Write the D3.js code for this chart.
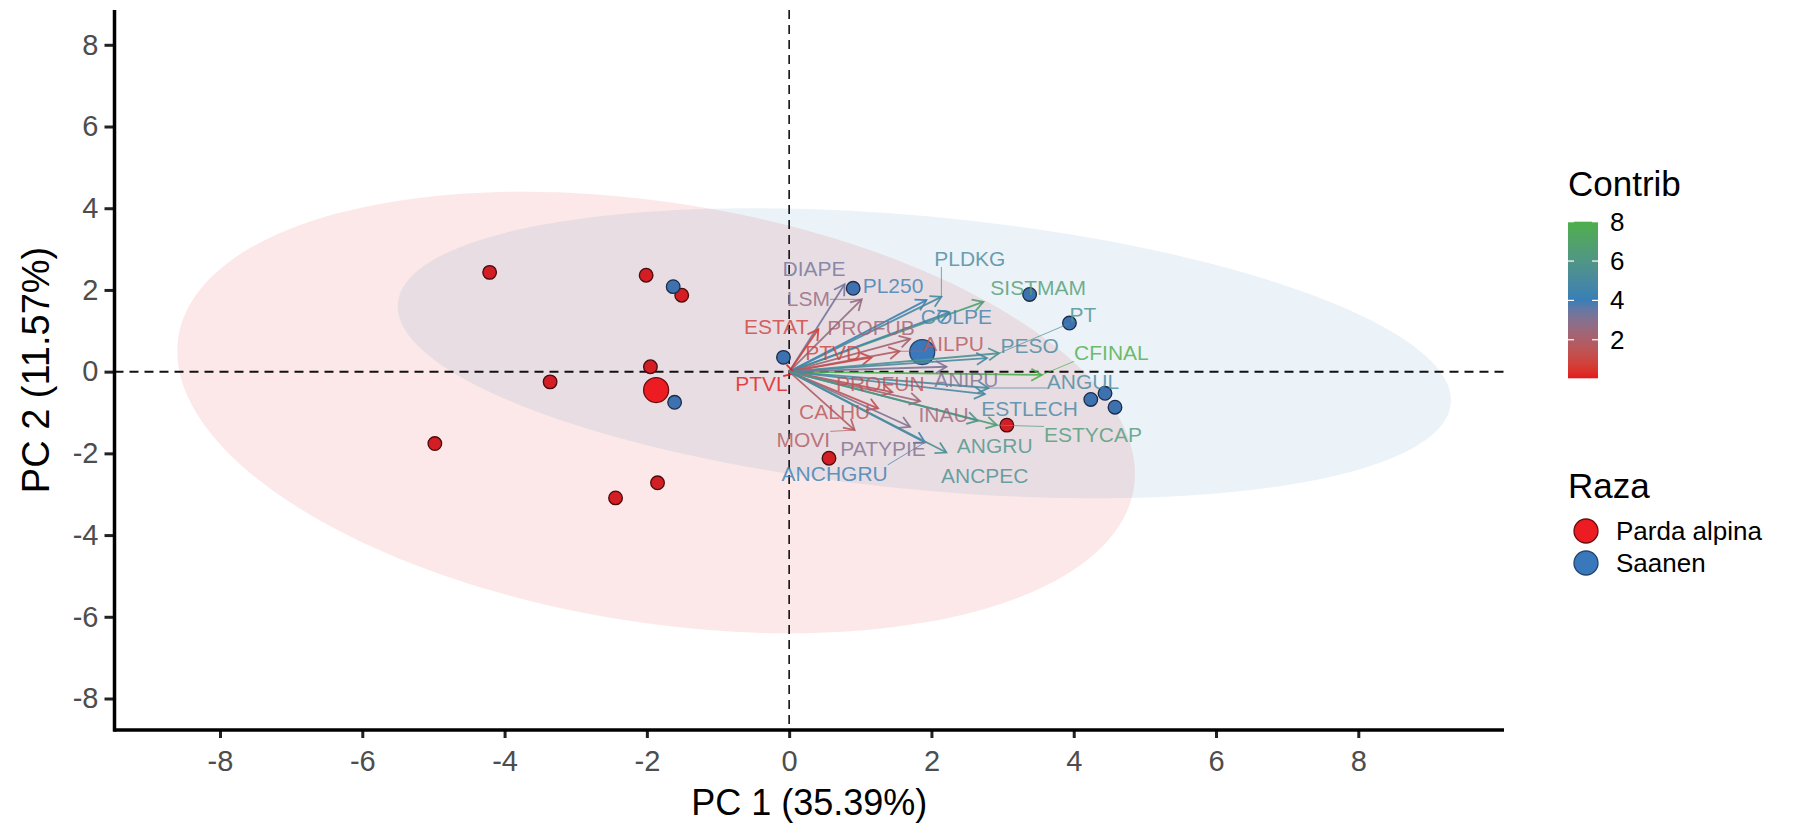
<!DOCTYPE html>
<html>
<head>
<meta charset="utf-8">
<script src="https://cdn.jsdelivr.net/npm/d3@7"></script>
<style>
  body { margin: 0; background: #fff; }
  text { font-family: "Liberation Sans", Arial, sans-serif; }
</style>
</head>
<body>
<script>
// PCA biplot: individuals by breed + variable arrows coloured by contribution

const width = 1814;
const height = 827;

// individuals (PC1, PC2)
const pardaX = [-4.21, -2.01, -1.51, -1.95, -3.36, -4.98, -1.85, -2.44, 0.56, 3.06];
const pardaY = [2.43, 2.36, 1.87, 0.12, -0.25, -1.76, -2.72, -3.09, -2.12, -1.31];
const saanenX = [-1.63, -1.61, -0.08, 0.90, 3.38, 3.94, 4.24, 4.44, 4.58];
const saanenY = [2.08, -0.75, 0.35, 2.04, 1.89, 1.19, -0.68, -0.53, -0.87];

const groups = ["Parda alpina", "Saanen"];
const groupMeanX = [-1.87, 1.87];
const groupMeanY = [-0.45, 0.48];

// ellipse per group: centre, var x, var y, cov xy
const ellCx = [-1.87, 1.9];
const ellCy = [-1.0, 0.45];
const ellSxx = [45.3, 54.8];
const ellSyy = [29.2, 12.6];
const ellSxy = [-10.1, -8.5];

// variables
const varNames = ["DIAPE", "LSM", "PL250", "PLDKG", "SISTMAM", "COLPE", "ESTAT", "PROFUB", "PTVD", "AILPU",
  "PT", "PESO", "CFINAL", "PTVL", "ANIPU", "ANGUL", "ESTLECH", "PROFUN", "CALHU", "INAU",
  "ESTYCAP", "MOVI", "PATYPIE", "ANGRU", "ANCHGRU", "ANCPEC"];
const varX = [0.78, 1.02, 1.93, 2.14, 2.73, 2.25, 0.41, 1.70, 1.16, 1.55,
  2.95, 2.78, 3.55, 0.08, 2.21, 2.80, 2.75, 1.45, 1.25, 1.84,
  2.92, 0.92, 1.70, 2.65, 1.91, 2.21];
const varY = [2.14, 1.77, 1.75, 1.83, 1.71, 1.45, 1.04, 0.80, 0.35, 0.50,
  0.45, 0.33, -0.08, -0.04, 0.12, -0.40, -0.55, -0.50, -0.90, -0.72,
  -1.31, -1.43, -1.35, -1.20, -1.73, -1.98];
const varContrib = [3.3, 2.6, 4.3, 5.0, 6.6, 4.5, 0.8, 2.2, 0.9, 1.7,
  5.6, 4.9, 8.0, 0.04, 3.1, 5.0, 4.9, 1.5, 1.5, 2.4,
  6.5, 1.8, 3.0, 5.8, 4.2, 5.5];
const labX = [0.35, 0.27, 1.46, 2.54, 3.50, 2.35, -0.18, 1.15, 0.62, 2.31,
  4.13, 3.38, 4.53, -0.39, 2.49, 4.13, 3.38, 1.28, 0.64, 2.17,
  4.27, 0.20, 1.32, 2.89, 0.64, 2.75];
const labY = [2.53, 1.79, 2.12, 2.77, 2.06, 1.36, 1.10, 1.08, 0.47, 0.69,
  1.39, 0.65, 0.46, -0.30, -0.19, -0.25, -0.90, -0.30, -0.98, -1.06,
  -1.55, -1.67, -1.88, -1.80, -2.49, -2.53];

const xTicks = [-8, -6, -4, -2, 0, 2, 4, 6, 8];
const yTicks = [-8, -6, -4, -2, 0, 2, 4, 6, 8];
const contribTicks = [2, 4, 6, 8];
const contribRange = [0.04, 8.0];

const svg = d3.select("body")
    .append("svg")
    .attr("width", width)
    .attr("height", height)
    .style("background", "#fff");

const panel = { left: 114.5, right: 1504, top: 10, bottom: 730 };

const x = d3.scaleLinear().domain([-8, 8]).range([220, 1358.3]);
const y = d3.scaleLinear().domain([-8, 8]).range([698.5, 44.8]);

const groupFill = ["#E41A1C", "#377EB8"];

const color = d3.scaleLinear()
    .domain([contribRange[0], (contribRange[0] + contribRange[1]) / 2, contribRange[1]])
    .range(["#E41A1C", "#377EB8", "#4DAF4A"])
    .interpolate(d3.interpolateLab);

// ellipses
groups.forEach((g, i) => {
    const a = Math.sqrt(ellSxx[i]);
    const b = ellSxy[i] / a;
    const c = Math.sqrt(ellSyy[i] - b * b);
    const pts = d3.range(0, 360, 2).map(deg => {
        const t = deg * Math.PI / 180;
        return [ellCx[i] + a * Math.cos(t), ellCy[i] + b * Math.cos(t) + c * Math.sin(t)];
    });
    svg.append("path")
        .datum(pts)
        .attr("d", d3.line().x(d => x(d[0])).y(d => y(d[1])).curve(d3.curveLinearClosed))
        .attr("fill", groupFill[i])
        .attr("fill-opacity", 0.1);
});

// reference lines
svg.append("line")
    .attr("x1", panel.left).attr("x2", panel.right)
    .attr("y1", y(0)).attr("y2", y(0))
    .attr("stroke", "#111").attr("stroke-width", 2).attr("stroke-dasharray", "9,6");
svg.append("line")
    .attr("x1", x(0)).attr("x2", x(0))
    .attr("y1", panel.top).attr("y2", panel.bottom)
    .attr("stroke", "#111").attr("stroke-width", 1.6).attr("stroke-dasharray", "9,6");

// individuals
const inds = [
    ...pardaX.map((v, i) => ({ x: v, y: pardaY[i], g: 0 })),
    ...saanenX.map((v, i) => ({ x: v, y: saanenY[i], g: 1 }))
];
svg.append("g").selectAll("circle")
    .data(inds)
    .join("circle")
    .attr("cx", d => x(d.x))
    .attr("cy", d => y(d.y))
    .attr("r", 6.8)
    .attr("fill", d => d.g === 0 ? "#D21E24" : "#3E71B0")
    .attr("stroke", d => d.g === 0 ? "#4a0b0b" : "#1c2c48")
    .attr("stroke-width", 1.3);

// group means
svg.append("g").selectAll("circle")
    .data(groups)
    .join("circle")
    .attr("cx", (d, i) => x(groupMeanX[i]))
    .attr("cy", (d, i) => y(groupMeanY[i]))
    .attr("r", 12.5)
    .attr("fill", (d, i) => i === 0 ? "#EC1C22" : "#3A78BC")
    .attr("stroke", (d, i) => i === 0 ? "#6a0d0d" : "#24456e")
    .attr("stroke-width", 1.3);

// variable arrows
const arrows = svg.append("g");
const headLen = 12;
varNames.forEach((name, i) => {
    const x0 = x(0), y0 = y(0);
    const x1 = x(varX[i]), y1 = y(varY[i]);
    const ang = Math.atan2(y1 - y0, x1 - x0);
    const col = color(varContrib[i]);
    const w1 = [x1 - headLen * Math.cos(ang - Math.PI / 6), y1 - headLen * Math.sin(ang - Math.PI / 6)];
    const w2 = [x1 - headLen * Math.cos(ang + Math.PI / 6), y1 - headLen * Math.sin(ang + Math.PI / 6)];
    arrows.append("line")
        .attr("x1", x0).attr("y1", y0).attr("x2", x1).attr("y2", y1)
        .attr("stroke", col).attr("stroke-width", 1.8).attr("stroke-opacity", 0.9);
    arrows.append("path")
        .attr("d", `M${w1[0]},${w1[1]}L${x1},${y1}L${w2[0]},${w2[1]}`)
        .attr("fill", "none")
        .attr("stroke", col).attr("stroke-width", 1.8).attr("stroke-opacity", 0.9);
});

// variable labels + leader segments
const leaders = svg.append("g");
const labels = svg.append("g");
varNames.forEach((name, i) => {
    const col = color(varContrib[i]);
    const t = labels.append("text")
        .attr("x", x(labX[i]))
        .attr("y", y(labY[i]))
        .attr("text-anchor", "middle")
        .attr("dominant-baseline", "central")
        .attr("font-size", 21)
        .attr("fill", col)
        .attr("fill-opacity", 0.82)
        .text(name);
    const bb = t.node().getBBox();
    const tx = x(varX[i]), ty = y(varY[i]);
    const nx = Math.max(bb.x, Math.min(tx, bb.x + bb.width));
    const ny = Math.max(bb.y + 3, Math.min(ty, bb.y + bb.height - 3));
    if (Math.hypot(nx - tx, ny - ty) > 18) {
        leaders.append("line")
            .attr("x1", tx).attr("y1", ty).attr("x2", nx).attr("y2", ny)
            .attr("stroke", col).attr("stroke-width", 0.9).attr("stroke-opacity", 0.8);
    }
});

// axes
const fmt = d => String(d);
const xAxis = svg.append("g")
    .attr("transform", `translate(0,${panel.bottom})`)
    .call(d3.axisBottom(x).tickValues(xTicks).tickFormat(fmt).tickSize(8).tickPadding(12).tickSizeOuter(0));
const yAxis = svg.append("g")
    .attr("transform", `translate(${panel.left},0)`)
    .call(d3.axisLeft(y).tickValues(yTicks).tickFormat(fmt).tickSize(10).tickPadding(6).tickSizeOuter(0));
[xAxis, yAxis].forEach(ax => {
    ax.select(".domain").remove();
    ax.selectAll(".tick line").attr("stroke", "#222").attr("stroke-width", 3);
    ax.selectAll(".tick text")
        .attr("font-size", 29)
        .attr("fill", "#4D4D4D")
        .style("font-family", "'Liberation Sans', Arial, sans-serif");
});
svg.append("line")
    .attr("x1", panel.left).attr("x2", panel.right)
    .attr("y1", panel.bottom).attr("y2", panel.bottom)
    .attr("stroke", "#000").attr("stroke-width", 3.5);
svg.append("line")
    .attr("x1", panel.left).attr("x2", panel.left)
    .attr("y1", panel.top).attr("y2", panel.bottom + 1.75)
    .attr("stroke", "#000").attr("stroke-width", 3.5);

svg.append("text")
    .attr("x", (panel.left + panel.right) / 2)
    .attr("y", 815)
    .attr("text-anchor", "middle")
    .attr("font-size", 36)
    .text("PC 1 (35.39%)");
svg.append("text")
    .attr("transform", `translate(49,${(panel.top + panel.bottom) / 2}) rotate(-90)`)
    .attr("text-anchor", "middle")
    .attr("font-size", 38)
    .text("PC 2 (11.57%)");

// legend: Contrib colourbar
const lg = { x: 1568, barTop: 221.7, barBottom: 378.3, barW: 30 };
svg.append("text")
    .attr("x", lg.x).attr("y", 196)
    .attr("font-size", 35)
    .text("Contrib");

const grad = svg.append("defs").append("linearGradient")
    .attr("id", "contribGrad")
    .attr("x1", 0).attr("y1", 1).attr("x2", 0).attr("y2", 0);
d3.range(0, 1.0001, 0.05).forEach(f => {
    grad.append("stop")
        .attr("offset", f)
        .attr("stop-color", color(contribRange[0] + f * (contribRange[1] - contribRange[0])));
});
svg.append("rect")
    .attr("x", lg.x).attr("y", lg.barTop)
    .attr("width", lg.barW).attr("height", lg.barBottom - lg.barTop)
    .attr("fill", "url(#contribGrad)");

const yc = d3.scaleLinear().domain(contribRange).range([lg.barBottom, lg.barTop]);
contribTicks.forEach(v => {
    [[lg.x, lg.x + 6], [lg.x + lg.barW - 6, lg.x + lg.barW]].forEach(([a, b]) => {
        svg.append("line")
            .attr("x1", a).attr("x2", b).attr("y1", yc(v)).attr("y2", yc(v))
            .attr("stroke", "#fff").attr("stroke-width", 1.2);
    });
    svg.append("text")
        .attr("x", lg.x + lg.barW + 12)
        .attr("y", yc(v))
        .attr("dominant-baseline", "central")
        .attr("font-size", 26)
        .text(v);
});

// legend: Raza
svg.append("text")
    .attr("x", lg.x).attr("y", 498)
    .attr("font-size", 35)
    .text("Raza");
groups.forEach((g, i) => {
    const cy = 531 + i * 32;
    svg.append("circle")
        .attr("cx", lg.x + 18).attr("cy", cy).attr("r", 12)
        .attr("fill", i === 0 ? "#EC1C22" : "#3A78BC")
        .attr("stroke", i === 0 ? "#6a0d0d" : "#24456e")
        .attr("stroke-width", 1.3);
    svg.append("text")
        .attr("x", lg.x + 48).attr("y", cy)
        .attr("dominant-baseline", "central")
        .attr("font-size", 26)
        .text(g);
});
</script>
</body>
</html>
